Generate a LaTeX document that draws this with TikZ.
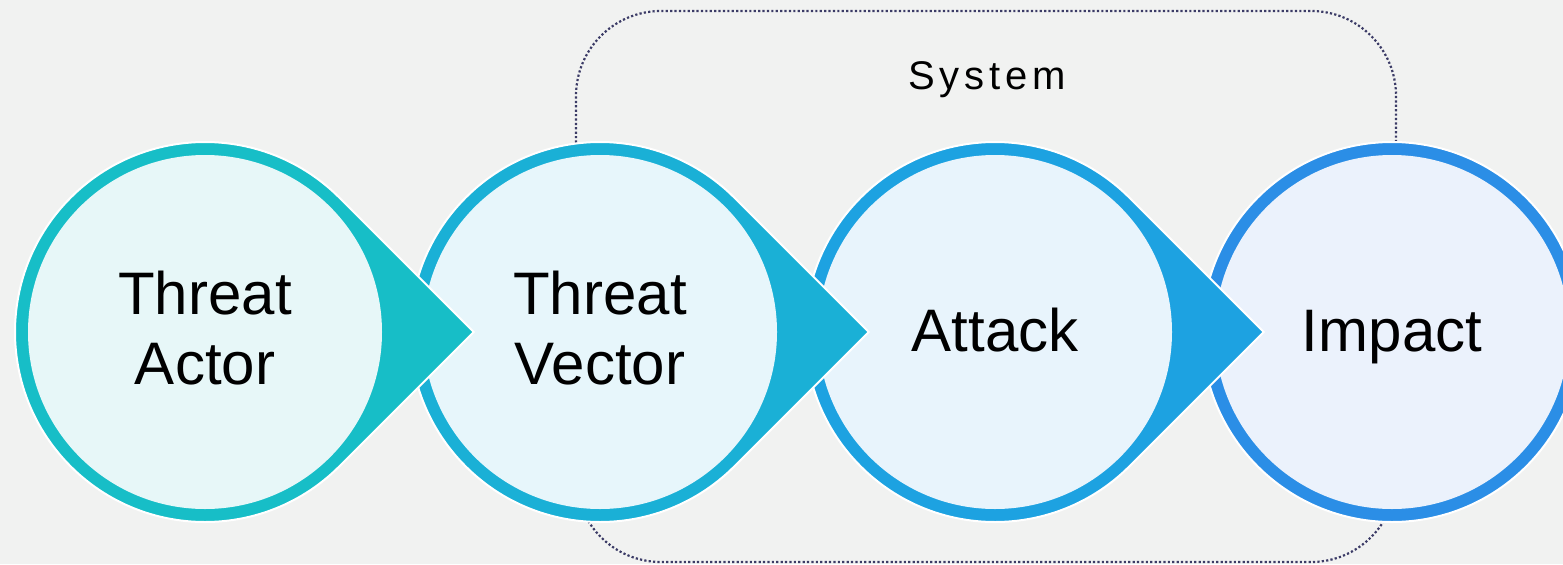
\documentclass[tikz,border=0pt]{standalone}
\usepackage{fontspec}
\setmainfont{Liberation Sans}
\usepackage{tikz}
\usetikzlibrary{calc,positioning}
\definecolor{kcbg}{RGB}{241,242,241}
\definecolor{kcline}{RGB}{59,59,102}
\definecolor{actorring}{RGB}{23,190,199}
\definecolor{actorfill}{RGB}{231,247,248}
\definecolor{vectorring}{RGB}{26,176,214}
\definecolor{vectorfill}{RGB}{231,246,251}
\definecolor{attackring}{RGB}{29,162,225}
\definecolor{attackfill}{RGB}{232,244,252}
\definecolor{impactring}{RGB}{43,142,230}
\definecolor{impactfill}{RGB}{235,242,252}
\tikzstyle{shell} = [draw=white, line width=1pt]
\tikzstyle{stage} = [inner sep=0pt, align=center, text=black, font=\fontsize{30}{35}\selectfont]
\tikzstyle{systembox} = [kcline, line width=1.1pt, dash pattern=on 1.1pt off 1.1pt, rounded corners=42.5pt]

\begin{document}
\begin{tikzpicture}[x=0.5pt, y=0.5pt]
\useasboundingbox (0,0) rectangle (1563,564);
\clip (0,0) rectangle (1563,564);
\fill[kcbg] (0,0) rectangle (1563,564);

% System boundary
\draw[systembox] (576,2) rectangle (1396,553);
\node[font=\fontsize{20}{24}\selectfont\addfontfeature{LetterSpace=12}] (system) at (987,484) {System};

% Impact
\coordinate (impactc) at (1392,232);
\filldraw[shell, fill=impactring] (impactc) circle[radius=190];
\fill[impactfill] (impactc) circle[radius=177];
\node[stage, yshift=-2.5pt] (impact) at (impactc) {Impact};

% Attack
\coordinate (attackc) at (995,232);
\coordinate (attacktip) at (1263.7,232);
\filldraw[shell, fill=attackring] (attacktip) -- ($(attackc)+(45:190)$) arc[start angle=45, end angle=315, radius=190] -- cycle;
\fill[attackfill] (attackc) circle[radius=177];
\node[stage, yshift=1pt] (attack) at (attackc) {Attack};

% Threat vector
\coordinate (vectorc) at (600,232);
\coordinate (vectortip) at (868.7,232);
\filldraw[shell, fill=vectorring] (vectortip) -- ($(vectorc)+(45:190)$) arc[start angle=45, end angle=315, radius=190] -- cycle;
\fill[vectorfill] (vectorc) circle[radius=177];
\node[stage, yshift=2pt] (vector) at (vectorc) {Threat\\Vector};

% Threat actor
\coordinate (actorc) at (205,232);
\coordinate (actortip) at (473.7,232);
\filldraw[shell, fill=actorring] (actortip) -- ($(actorc)+(45:190)$) arc[start angle=45, end angle=315, radius=190] -- cycle;
\fill[actorfill] (actorc) circle[radius=177];
\node[stage, yshift=2pt] (actor) at (actorc) {Threat\\Actor};
\end{tikzpicture}
\end{document}
